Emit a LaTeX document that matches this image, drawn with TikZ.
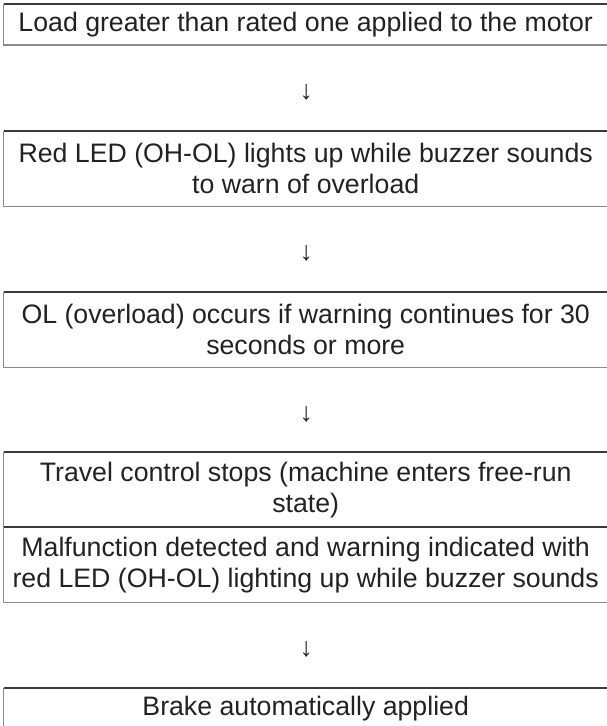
\documentclass[tikz,border=0pt]{standalone}
\usepackage{fontspec}
\setmainfont{Liberation Sans}
\usetikzlibrary{calc}
\definecolor{txt}{HTML}{222222}
\definecolor{topline}{HTML}{3A3A3A}
\definecolor{sideline}{HTML}{8A8A8A}
\begin{document}
\begin{tikzpicture}[x=1bp,y=-1bp,
  flowbox/.style={anchor=north west, minimum width=604bp, minimum height=#1,
    inner sep=0pt, align=center, text=txt,
    font=\fontsize{26.7bp}{31bp}\selectfont},
  downarrow/.style={text=txt, inner sep=0pt, font=\fontsize{26.7bp}{31bp}\selectfont},
  topb/.style={draw=topline, line width=1.2bp},
  sideb/.style={draw=sideline, line width=1.8bp}]
\useasboundingbox (0,0) rectangle (607,726);
\fill[white] (0,0) rectangle (607,726);

\node[flowbox=41bp] (b1) at (3.5,4) {Load greater than rated one applied to the motor};
\node[flowbox=75bp] (b2) at (3.5,131) {Red LED (OH-OL) lights up while buzzer sounds\\to warn of overload};
\node[flowbox=75bp] (b3) at (3.5,292) {OL (overload) occurs if warning continues for 30\\seconds or more};
\node[flowbox=75bp] (b4a) at (3.5,452) {Travel control stops (machine enters free-run\\state)};
\node[flowbox=75bp] (b4b) at (3.5,527) {Malfunction detected and warning indicated with\\red LED (OH-OL) lighting up while buzzer sounds};
\node[flowbox=41bp] (b5) at (3.5,688) {Brake automatically applied};

\foreach \b in {b1,b2,b3,b4a,b4b,b5}{
  \draw[topb] (\b.north west) -- (\b.north east);
}
\foreach \b in {b1,b2,b3,b5}{
  \draw[sideb] (\b.north west) -- (\b.south west) -- (\b.south east);
}
\draw[sideb] (b4a.north west) -- (b4b.south west) -- (b4b.south east);

\node[downarrow] (a1) at ($(b1.south)!0.5!(b2.north)+(0.5,4.5)$) {↓};
\node[downarrow] (a2) at ($(b2.south)!0.5!(b3.north)+(0.5,4.5)$) {↓};
\node[downarrow] (a3) at ($(b3.south)!0.5!(b4a.north)+(0.5,4.5)$) {↓};
\node[downarrow] (a4) at ($(b4b.south)!0.5!(b5.north)+(0.5,4.5)$) {↓};
\end{tikzpicture}
\end{document}
